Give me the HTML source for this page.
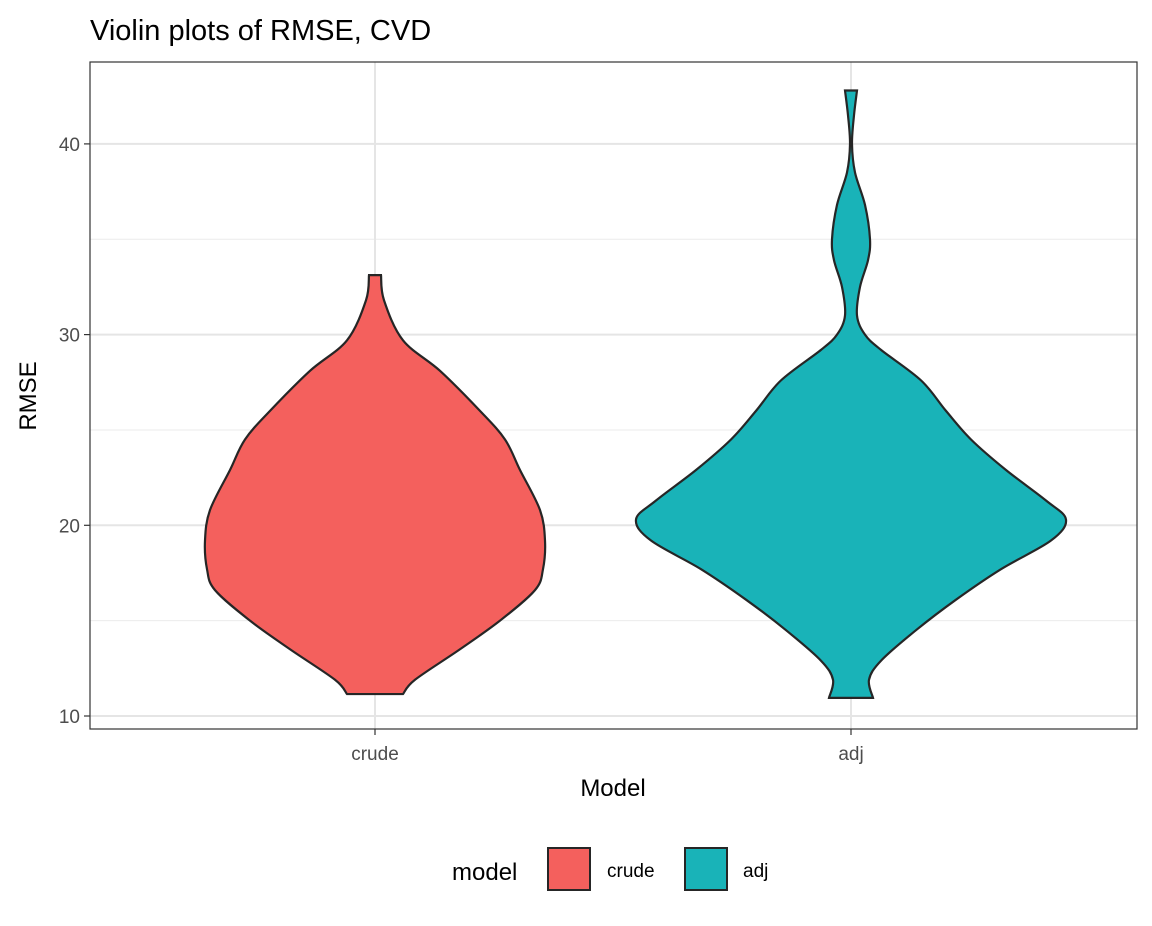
<!DOCTYPE html>
<html><head><meta charset="utf-8"><style>
body{margin:0;background:#fff;font-family:"Liberation Sans",sans-serif}
svg text{font-family:"Liberation Sans",sans-serif}
</style></head><body>
<svg width="1152" height="921">
<text x="90" y="40" font-size="29" fill="#000">Violin plots of RMSE, CVD</text>
<g id="grid"></g>
<g id="violins"></g>
<rect x="90" y="62" width="1047" height="667" fill="none" stroke="#333" stroke-width="1.2"/>
<g id="axes"></g>
<text x="613" y="796" font-size="24" text-anchor="middle">Model</text>
<text transform="translate(36,396) rotate(-90)" font-size="24" text-anchor="middle">RMSE</text>
<g>
<text x="452" y="880" font-size="24">model</text>
<rect x="548" y="848" width="42" height="42" fill="#F4605D" stroke="#262626" stroke-width="2"/>
<text x="607" y="877" font-size="19">crude</text>
<rect x="685" y="848" width="42" height="42" fill="#19B3B8" stroke="#262626" stroke-width="2"/>
<text x="743" y="877" font-size="19">adj</text>
</g>
</svg>
<script>
const categories=["crude","adj"];
const yTicks=[10,20,30,40];
const yMinor=[15,25,35];
const crudeY=[33.12,31.8,29.7,28.1,26.0,24.5,22.9,20.8,19.2,17.7,16.6,15.0,13.5,11.9,11.15];
const crudeW=[6,9,28,65,105,130,145,165,170,168,160,125,85,40,28];
const adjY=[42.8,41.5,40.0,38.5,36.8,35.0,33.9,32.5,31.0,30.0,29.2,27.6,26.0,24.5,22.9,21.3,20.3,19.2,17.7,16.1,14.5,12.9,11.9,10.95];
const adjW=[6,3,1,4,14,19,17,9,6,14,30,70,95,120,155,195,215,200,150,105,65,30,18,22];
const colors=["#F4605D","#19B3B8"];
const NS="http://www.w3.org/2000/svg";
const yS=v=>716-(v-10)*19.07;
const xS=i=>375+i*476;
function mk(t,a,p){const e=document.createElementNS(NS,t);for(const k in a)e.setAttribute(k,a[k]);p.appendChild(e);return e;}
const grid=document.getElementById('grid'),axes=document.getElementById('axes'),vg=document.getElementById('violins');
yMinor.forEach(v=>{const l=mk('line',{x1:90,x2:1137,y1:yS(v),y2:yS(v),stroke:'#ebebeb','stroke-width':1},grid);

});
yTicks.forEach(v=>{const l=mk('line',{x1:90,x2:1137,y1:yS(v),y2:yS(v),stroke:'#e5e5e5','stroke-width':2},grid);


const t=mk('line',{x1:84,x2:90,y1:yS(v),y2:yS(v),stroke:'#333','stroke-width':1.2},axes);


const tx=mk('text',{x:80,y:yS(v)+7,'font-size':19,fill:'#4d4d4d','text-anchor':'end'},axes);tx.textContent=v;

});
categories.forEach((c,i)=>{const l=mk('line',{x1:xS(i),x2:xS(i),y1:62,y2:729,stroke:'#e5e5e5','stroke-width':2},grid);


const t=mk('line',{x1:xS(i),x2:xS(i),y1:729,y2:735,stroke:'#333','stroke-width':1.2},axes);


const tx=mk('text',{x:xS(i),y:760,'font-size':19,fill:'#4d4d4d','text-anchor':'middle'},axes);tx.textContent=c;

});
function smooth(pts){let d='';for(let i=0;i<pts.length-1;i++){const p0=pts[Math.max(i-1,0)],p1=pts[i],p2=pts[i+1],p3=pts[Math.min(i+2,pts.length-1)];
const c1=[p1[0]+(p2[0]-p0[0])/6,p1[1]+(p2[1]-p0[1])/6],c2=[p2[0]-(p3[0]-p1[0])/6,p2[1]-(p3[1]-p1[1])/6];
d+=` C${c1[0]},${c1[1]} ${c2[0]},${c2[1]} ${p2[0]},${p2[1]}`;}return d;}
function violin(i,Y,W){const cx=xS(i);const R=Y.map((y,k)=>[cx+W[k],yS(y)]);const L=Y.map((y,k)=>[cx-W[k],yS(y)]).reverse();
let d=`M${cx-W[0]},${yS(Y[0])} L${R[0][0]},${R[0][1]}`+smooth(R)+` L${L[0][0]},${L[0][1]}`+smooth(L)+' Z';
const p=mk('path',{d:d,fill:colors[i],stroke:'#262626','stroke-width':2.2},vg);

}
violin(0,crudeY,crudeW);violin(1,adjY,adjW);
</script>
</body></html>
